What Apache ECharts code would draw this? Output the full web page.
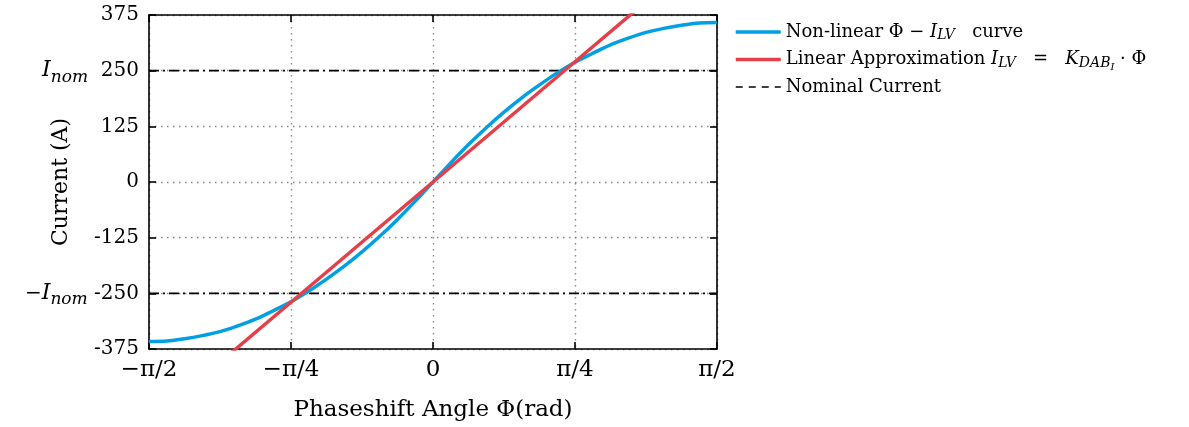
<!DOCTYPE html>
<html>
<head>
<meta charset="utf-8">
<script src="https://cdn.jsdelivr.net/npm/echarts@6/dist/echarts.min.js"></script>
<style>
  html, body { margin: 0; padding: 0; background: #fff; }
  #chart { width: 1189px; height: 427px; }
</style>
</head>
<body>
<div id="chart"></div>
<script>
// phase steps in units of pi/32, from -pi/2 to pi/2
const phiSteps = [-16, -15, -14, -13, -12, -11, -10, -9, -8, -7, -6, -5, -4, -3, -2, -1, 0,
                  1, 2, 3, 4, 5, 6, 7, 8, 9, 10, 11, 12, 13, 14, 15, 16];
// non-linear current (A)
const nonLinear = [-358, -357, -352, -345, -336, -323, -308, -289, -269, -245, -218, -189, -157, -122, -84, -43, 0,
                   43, 84, 122, 157, 189, 218, 245, 269, 289, 308, 323, 336, 345, 352, 357, 358];
// linear approximation, points at -pi/2, -pi/4, 0, pi/4, pi/2
const linSteps = [-16, -8, 0, 8, 16];
const linear = [-540, -270, 0, 270, 540];
const nominal = 250;
const xTickLabels = ['−π/2', '−π/4', '0', 'π/4', 'π/2'];
const yMin = -375, yMax = 375, yStep = 125;

const STEP = Math.PI / 32;
const FONT = 'DejaVu Serif';
const BLUE = '#00a0e3', RED = '#e5404a';

function pairs(steps, vals) {
    var out = [];
    for (var i = 0; i < steps.length; i++) out.push([steps[i] * STEP, vals[i]]);
    return out;
}

var chart = echarts.init(document.getElementById('chart'));

var dashDot = { color: '#000', width: 1.6, type: [10, 4, 2, 4] };

var legendNames = {
    'nl': '{t|Non-linear Φ − }{i|I}{s|LV}{t|   curve}',
    'lin': '{t|Linear Approximation }{i|I}{s|LV}{t|   =   }{i|K}{s|DAB}{ss|I}{t| · Φ}',
    'nom': '{t|Nominal Current}'
};

var option = {
    animation: false,
    grid: { left: 149, top: 15, right: 472, bottom: 78, containLabel: false },
    legend: {
        orient: 'vertical',
        left: 734,
        top: 23,
        padding: 0,
        itemWidth: 45,
        itemHeight: 14,
        itemGap: 6,
        data: [
            { name: 'nl', itemStyle: { opacity: 0 }, lineStyle: { color: BLUE, width: 3.5, type: 'solid' } },
            { name: 'lin', itemStyle: { opacity: 0 }, lineStyle: { color: RED, width: 3.5, type: 'solid' } },
            { name: 'nom', itemStyle: { opacity: 0 }, lineStyle: { color: '#000', width: 1.6, type: [7, 6] } }
        ],
        formatter: function (n) { return legendNames[n]; },
        textStyle: {
            fontFamily: FONT, fontSize: 18, color: '#000',
            rich: {
                t: { fontFamily: FONT, fontSize: 18, color: '#000', lineHeight: 25, verticalAlign: 'middle' },
                i: { fontFamily: FONT, fontSize: 18, fontStyle: 'italic', color: '#000', lineHeight: 25, verticalAlign: 'middle' },
                s: { fontFamily: FONT, fontSize: 14, fontStyle: 'italic', color: '#000', lineHeight: 25, verticalAlign: 'bottom', padding: [0, 0, 2, 0] },
                ss: { fontFamily: FONT, fontSize: 10, fontStyle: 'italic', color: '#000', lineHeight: 25, verticalAlign: 'bottom' }
            }
        }
    },
    xAxis: [{
        type: 'value',
        min: -16 * STEP,
        max: 16 * STEP,
        interval: 8 * STEP,
        name: 'Phaseshift Angle Φ(rad)',
        nameLocation: 'middle',
        nameGap: 50,
        nameMoveOverlap: false,
        nameTextStyle: { fontFamily: FONT, fontSize: 23, color: '#000' },
        axisLine: { onZero: false, lineStyle: { color: '#000', width: 1.6 } },
        axisTick: { inside: true, length: 7, lineStyle: { color: '#000', width: 1.6 } },
        axisLabel: {
            margin: 10, fontFamily: FONT, fontSize: 23, color: '#000',
            formatter: function (v) { return xTickLabels[Math.round(v / (8 * STEP)) + 2]; }
        },
        splitLine: { show: true, lineStyle: { color: '#888', width: 1.4, type: [1.5, 4.5] } }
    }, {
        type: 'value',
        position: 'top',
        min: -16 * STEP,
        max: 16 * STEP,
        interval: 8 * STEP,
        axisLine: { onZero: false, lineStyle: { color: '#000', width: 1.6 } },
        axisTick: { inside: true, length: 7, lineStyle: { color: '#000', width: 1.6 } },
        axisLabel: { show: false },
        splitLine: { show: false }
    }],
    yAxis: [{
        type: 'value',
        min: yMin,
        max: yMax,
        interval: yStep,
        name: 'Current (A)',
        nameLocation: 'middle',
        nameGap: 77,
        nameMoveOverlap: false,
        nameTextStyle: { fontFamily: FONT, fontSize: 22, color: '#000' },
        axisLine: { onZero: false, lineStyle: { color: '#000', width: 1.6 } },
        axisTick: { inside: true, length: 7, lineStyle: { color: '#000', width: 1.6 } },
        axisLabel: {
            margin: 10, fontFamily: FONT, fontSize: 20, color: '#000',
            formatter: function (v) {
                if (v === nominal) return '{n|I}{ns|nom}{v|  ' + v + '}';
                if (v === -nominal) return '{v|−}{n|I}{ns|nom}{v| ' + v + '}';
                return '{v|' + v + '}';
            },
            rich: {
                v: { fontFamily: FONT, fontSize: 20, color: '#000', lineHeight: 30, verticalAlign: 'middle' },
                n: { fontFamily: FONT, fontSize: 22, fontStyle: 'italic', color: '#000', lineHeight: 30, verticalAlign: 'middle' },
                ns: { fontFamily: FONT, fontSize: 17, fontStyle: 'italic', color: '#000', lineHeight: 30, verticalAlign: 'bottom' }
            }
        },
        splitLine: { show: true, lineStyle: { color: '#888', width: 1.4, type: [1.5, 4.5] } }
    }, {
        type: 'value',
        position: 'right',
        min: yMin,
        max: yMax,
        interval: yStep,
        axisLine: { onZero: false, lineStyle: { color: '#000', width: 1.6 } },
        axisTick: { inside: true, length: 7, lineStyle: { color: '#000', width: 1.6 } },
        axisLabel: { show: false },
        splitLine: { show: false }
    }],
    series: [
        {
            name: 'nom', type: 'line', symbol: 'none', silent: true,
            data: [[-16 * STEP, nominal], [16 * STEP, nominal]],
            lineStyle: dashDot, itemStyle: { color: '#000' }, z: 1
        },
        {
            name: 'nom', type: 'line', symbol: 'none', silent: true,
            data: [[-16 * STEP, -nominal], [16 * STEP, -nominal]],
            lineStyle: dashDot, itemStyle: { color: '#000' }, z: 1
        },
        {
            name: 'nl', type: 'line', symbol: 'none', smooth: 0.3,
            data: pairs(phiSteps, nonLinear),
            lineStyle: { color: BLUE, width: 3.5 },
            itemStyle: { color: BLUE }, z: 3
        },
        {
            name: 'lin', type: 'line', symbol: 'none', clip: true,
            data: pairs(linSteps, linear),
            lineStyle: { color: RED, width: 3.5 },
            itemStyle: { color: RED }, z: 4
        }
    ]
};

chart.setOption(option);
</script>
</body>
</html>
